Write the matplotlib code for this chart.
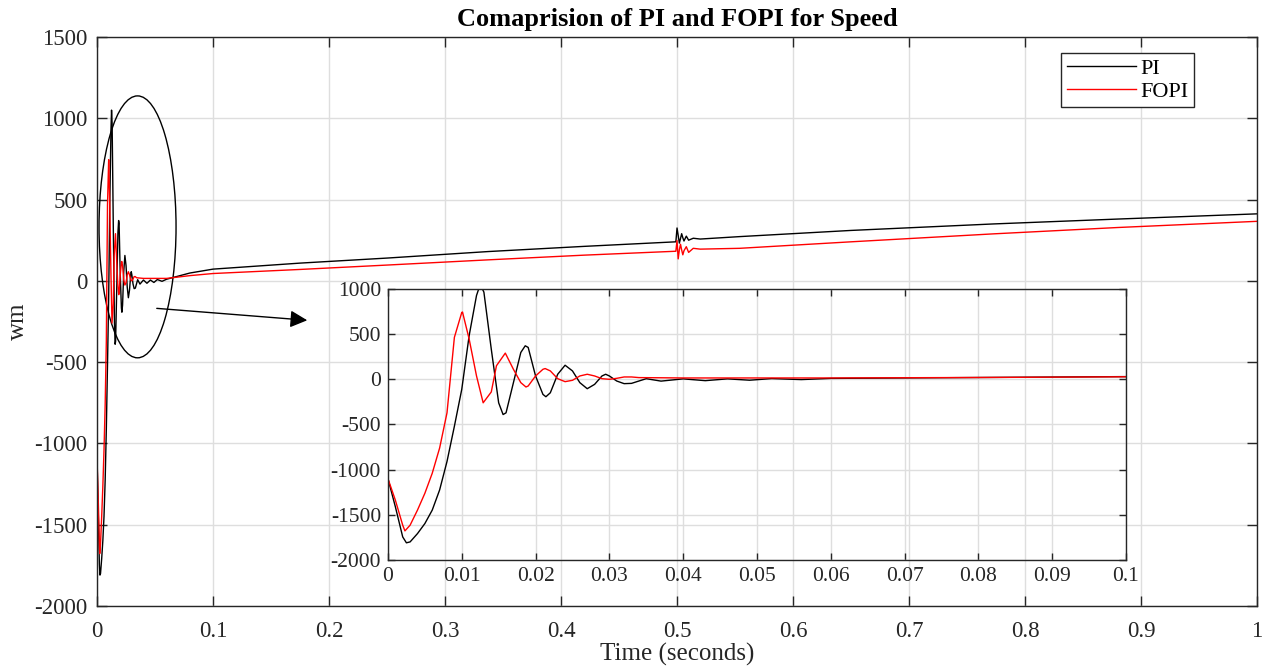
import matplotlib.pyplot as plt
import numpy as np
from matplotlib.patches import Ellipse

plt.rcParams["font.family"] = ["Liberation Serif", "DejaVu Serif"]
plt.rcParams["axes.unicode_minus"] = False

# start-up transient (0 .. 0.1 s)
t_fast = [0.0, 0.001, 0.002, 0.0025, 0.003, 0.004, 0.005, 0.006, 0.007, 0.008, 0.009,
          0.010, 0.011, 0.012, 0.0125, 0.013, 0.014, 0.015, 0.0156, 0.016, 0.017, 0.018,
          0.0186, 0.019, 0.020, 0.021, 0.0214, 0.022, 0.023, 0.024, 0.025, 0.026, 0.027,
          0.028, 0.029, 0.0295, 0.030, 0.031, 0.032, 0.033, 0.034, 0.035, 0.037, 0.040,
          0.043, 0.046, 0.049, 0.052, 0.056, 0.060, 0.070, 0.080, 0.090, 0.100]
pi_fast = [-1100, -1410, -1745, -1810, -1800, -1708, -1597, -1448, -1225, -910, -520,
           -111, 483, 928, 1050, 965, 334, -260, -390, -371, -37, 297,
           371, 353, 37, -167, -193, -149, 56, 156, 93, -37, -104,
           -56, 37, 56, 37, -19, -48, -45, -19, 7, -20, 5,
           -15, 5, -10, 8, -3, 10, 15, 20, 25, 30]

t_fopi_fast = [0.0, 0.001, 0.002, 0.0023, 0.003, 0.004, 0.005, 0.006, 0.007, 0.008, 0.009,
               0.010, 0.0101, 0.011, 0.012, 0.0129, 0.014, 0.0147, 0.0159, 0.017, 0.018,
               0.0187, 0.019, 0.020, 0.021, 0.0213, 0.022, 0.023, 0.024, 0.025, 0.026, 0.027,
               0.028, 0.029, 0.030, 0.031, 0.032, 0.033, 0.034, 0.040, 0.060, 0.080, 0.100]
fopi_fast = [-1100, -1337, -1615, -1678, -1615, -1448, -1262, -1040, -761, -371, 464,
             740, 745, 446, 37, -260, -140, 150, 290, 111, -37,
             -85, -74, 37, 111, 119, 93, 7, -26, -11, 37, 56,
             37, 7, 0, 11, 26, 26, 19, 15, 15, 20, 28]

# slow ramp of the full 1 s run, with the load step at 0.5 s
t_slow = [0.08, 0.1, 0.175, 0.25, 0.337, 0.42, 0.499, 0.5, 0.501, 0.502, 0.503, 0.504,
          0.505, 0.506, 0.508, 0.51, 0.514, 0.52, 0.554, 0.65, 0.773, 0.88, 1.0]
pi_slow = [48, 72, 109, 140, 180, 212, 240, 325, 280, 232, 260, 290,
           265, 245, 275, 250, 262, 257, 272, 310, 350, 380, 412]
fopi_slow = [32, 45, 70, 97, 129, 158, 182, 248, 135, 190, 225, 190,
             160, 185, 210, 175, 200, 195, 200, 240, 289, 328, 366]

text_color = "#262626"
grid_color = "#dedede"

fig = plt.figure(figsize=(12.67, 6.66), dpi=100)
ax = fig.add_axes([0.0766, 0.0901, 0.9155, 0.8544])

tf = np.array(t_fast)
tff = np.array(t_fopi_fast)
pi_main_t = np.concatenate([tf[tf <= 0.06], t_slow])
pi_main_y = np.concatenate([np.array(pi_fast)[tf <= 0.06], pi_slow])
fopi_main_t = np.concatenate([tff[tff <= 0.06], t_slow])
fopi_main_y = np.concatenate([np.array(fopi_fast)[tff <= 0.06], fopi_slow])

ax.plot(pi_main_t, pi_main_y, color="black", lw=1.0, label="PI")
ax.plot(fopi_main_t, fopi_main_y, color="red", lw=1.0, label="FOPI")

ax.set_xlim(0, 1)
ax.set_ylim(-2000, 1500)
ax.set_xticks(np.arange(0, 1.01, 0.1))
ax.set_xticklabels(["0", "0.1", "0.2", "0.3", "0.4", "0.5", "0.6", "0.7", "0.8", "0.9", "1"])
ax.set_yticks(np.arange(-2000, 1501, 500))
ax.grid(True, color=grid_color, lw=1.0)
ax.set_axisbelow(True)
ax.tick_params(direction="in", top=True, right=True, length=7, width=1.0,
               colors=text_color, labelsize=16.5, pad=7)
ax.tick_params(axis="x", pad=11)
for sp in ax.spines.values():
    sp.set_color(text_color)
    sp.set_linewidth(1.0)

ax.set_title("Comaprision of PI and FOPI for Speed", fontsize=19, fontweight="bold",
             color="black", pad=8)
ax.set_ylabel("wm", fontsize=18, color=text_color, labelpad=4)
ax.set_xlabel("Time (seconds)", fontsize=18, color=text_color, labelpad=0)
ax.xaxis.set_label_coords(0.5, -0.064)

leg = ax.legend(loc="upper right", bbox_to_anchor=(0.9457, 0.9724), borderaxespad=0,
                fontsize=16, handlelength=3.1, handletextpad=0.2, labelspacing=0.1,
                fancybox=False, framealpha=1, edgecolor=text_color, borderpad=0.25)
leg.get_frame().set_linewidth(1.0)

# highlight of the start-up transient and pointer to the zoom
ax.add_patch(Ellipse((0.0349, 332), 0.0664, 1611, fill=False, edgecolor="black", lw=1.0))
ax.annotate("", xy=(0.1836, -244), xytext=(0.0491, -168),
            arrowprops=dict(arrowstyle="-|>", color="black", lw=1.0, mutation_scale=26))

# zoomed inset, transparent so the main grid shows through
axin = fig.add_axes([0.3062, 0.1592, 0.5825, 0.4069])
axin.patch.set_alpha(0)
axin.plot(t_fast, pi_fast, color="black", lw=1.0)
axin.plot(t_fopi_fast, fopi_fast, color="red", lw=1.0)
axin.set_xlim(0, 0.1)
axin.set_ylim(-2000, 1000)
axin.set_xticks(np.arange(0, 0.101, 0.01))
axin.set_xticklabels(["0", "0.01", "0.02", "0.03", "0.04", "0.05", "0.06", "0.07", "0.08", "0.09", "0.1"])
axin.set_yticks(np.arange(-2000, 1001, 500))
axin.grid(True, color=grid_color, lw=1.0)
axin.set_axisbelow(True)
axin.tick_params(direction="in", top=True, right=True, length=5, width=1.0,
                 colors=text_color, labelsize=15.5, pad=5)
for sp in axin.spines.values():
    sp.set_color(text_color)
    sp.set_linewidth(1.0)

plt.savefig("out.png", dpi=100)
plt.close()
